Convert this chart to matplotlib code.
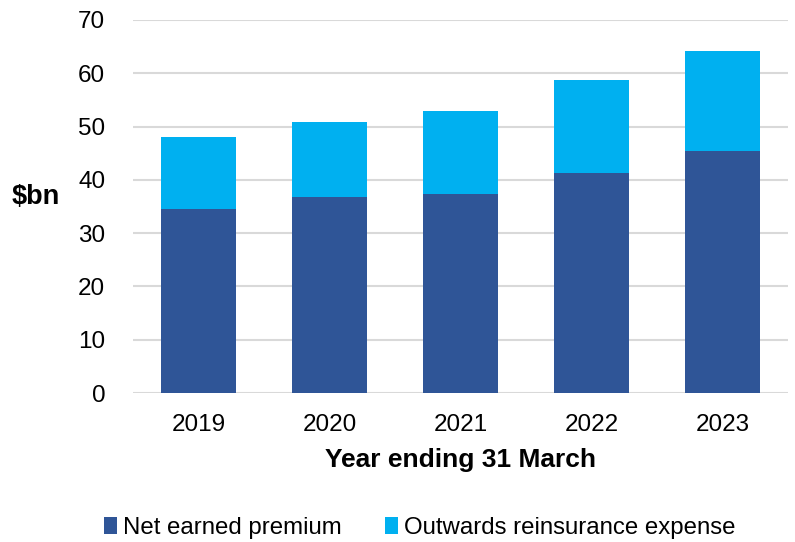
import numpy as np
import matplotlib.pyplot as plt

years = ["2019", "2020", "2021", "2022", "2023"]
net_earned = [34.6, 36.8, 37.4, 41.2, 45.5]
outwards_re = [13.4, 14.1, 15.6, 17.55, 18.7]

plt.rcParams['font.family'] = ['Liberation Sans', 'DejaVu Sans']

fig = plt.figure(figsize=(7.95, 5.42), dpi=100)
ax = fig.add_axes([133 / 795, 1 - 393 / 542, (788 - 133) / 795, (393 - 20) / 542])

x = np.arange(len(years))
w = 0.58
ax.bar(x, net_earned, w, color='#2f5597', label='Net earned premium', zorder=3)
ax.bar(x, outwards_re, w, bottom=net_earned, color='#00b0f0',
       label='Outwards reinsurance expense', zorder=3)

ax.set_ylim(0, 70)
ax.set_xlim(-0.5, len(years) - 0.5)
ax.set_yticks(range(0, 71, 10))
ax.set_xticks(x)
ax.set_xticklabels(years)
ax.tick_params(axis='both', length=0, labelsize=17.5)
ax.tick_params(axis='x', pad=15)
ax.tick_params(axis='y', pad=20)
ax.grid(axis='y', color='#d9d9d9', lw=1.5, zorder=0)
for s in ax.spines.values():
    s.set_visible(False)

ax.set_xlabel('Year ending 31 March', fontsize=19, fontweight='bold', labelpad=9)
fig.text(12 / 795, 1 - 197 / 542, '$bn', fontsize=19.5, fontweight='bold',
         ha='left', va='center')

fig.legend(loc='center', bbox_to_anchor=(420 / 795, 1 - 528 / 542), ncol=2,
           frameon=False, fontsize=17.3, handlelength=0.55, handleheight=0.7,
           handletextpad=0.25, columnspacing=1.8)

fig.savefig('out.png', dpi=100)
